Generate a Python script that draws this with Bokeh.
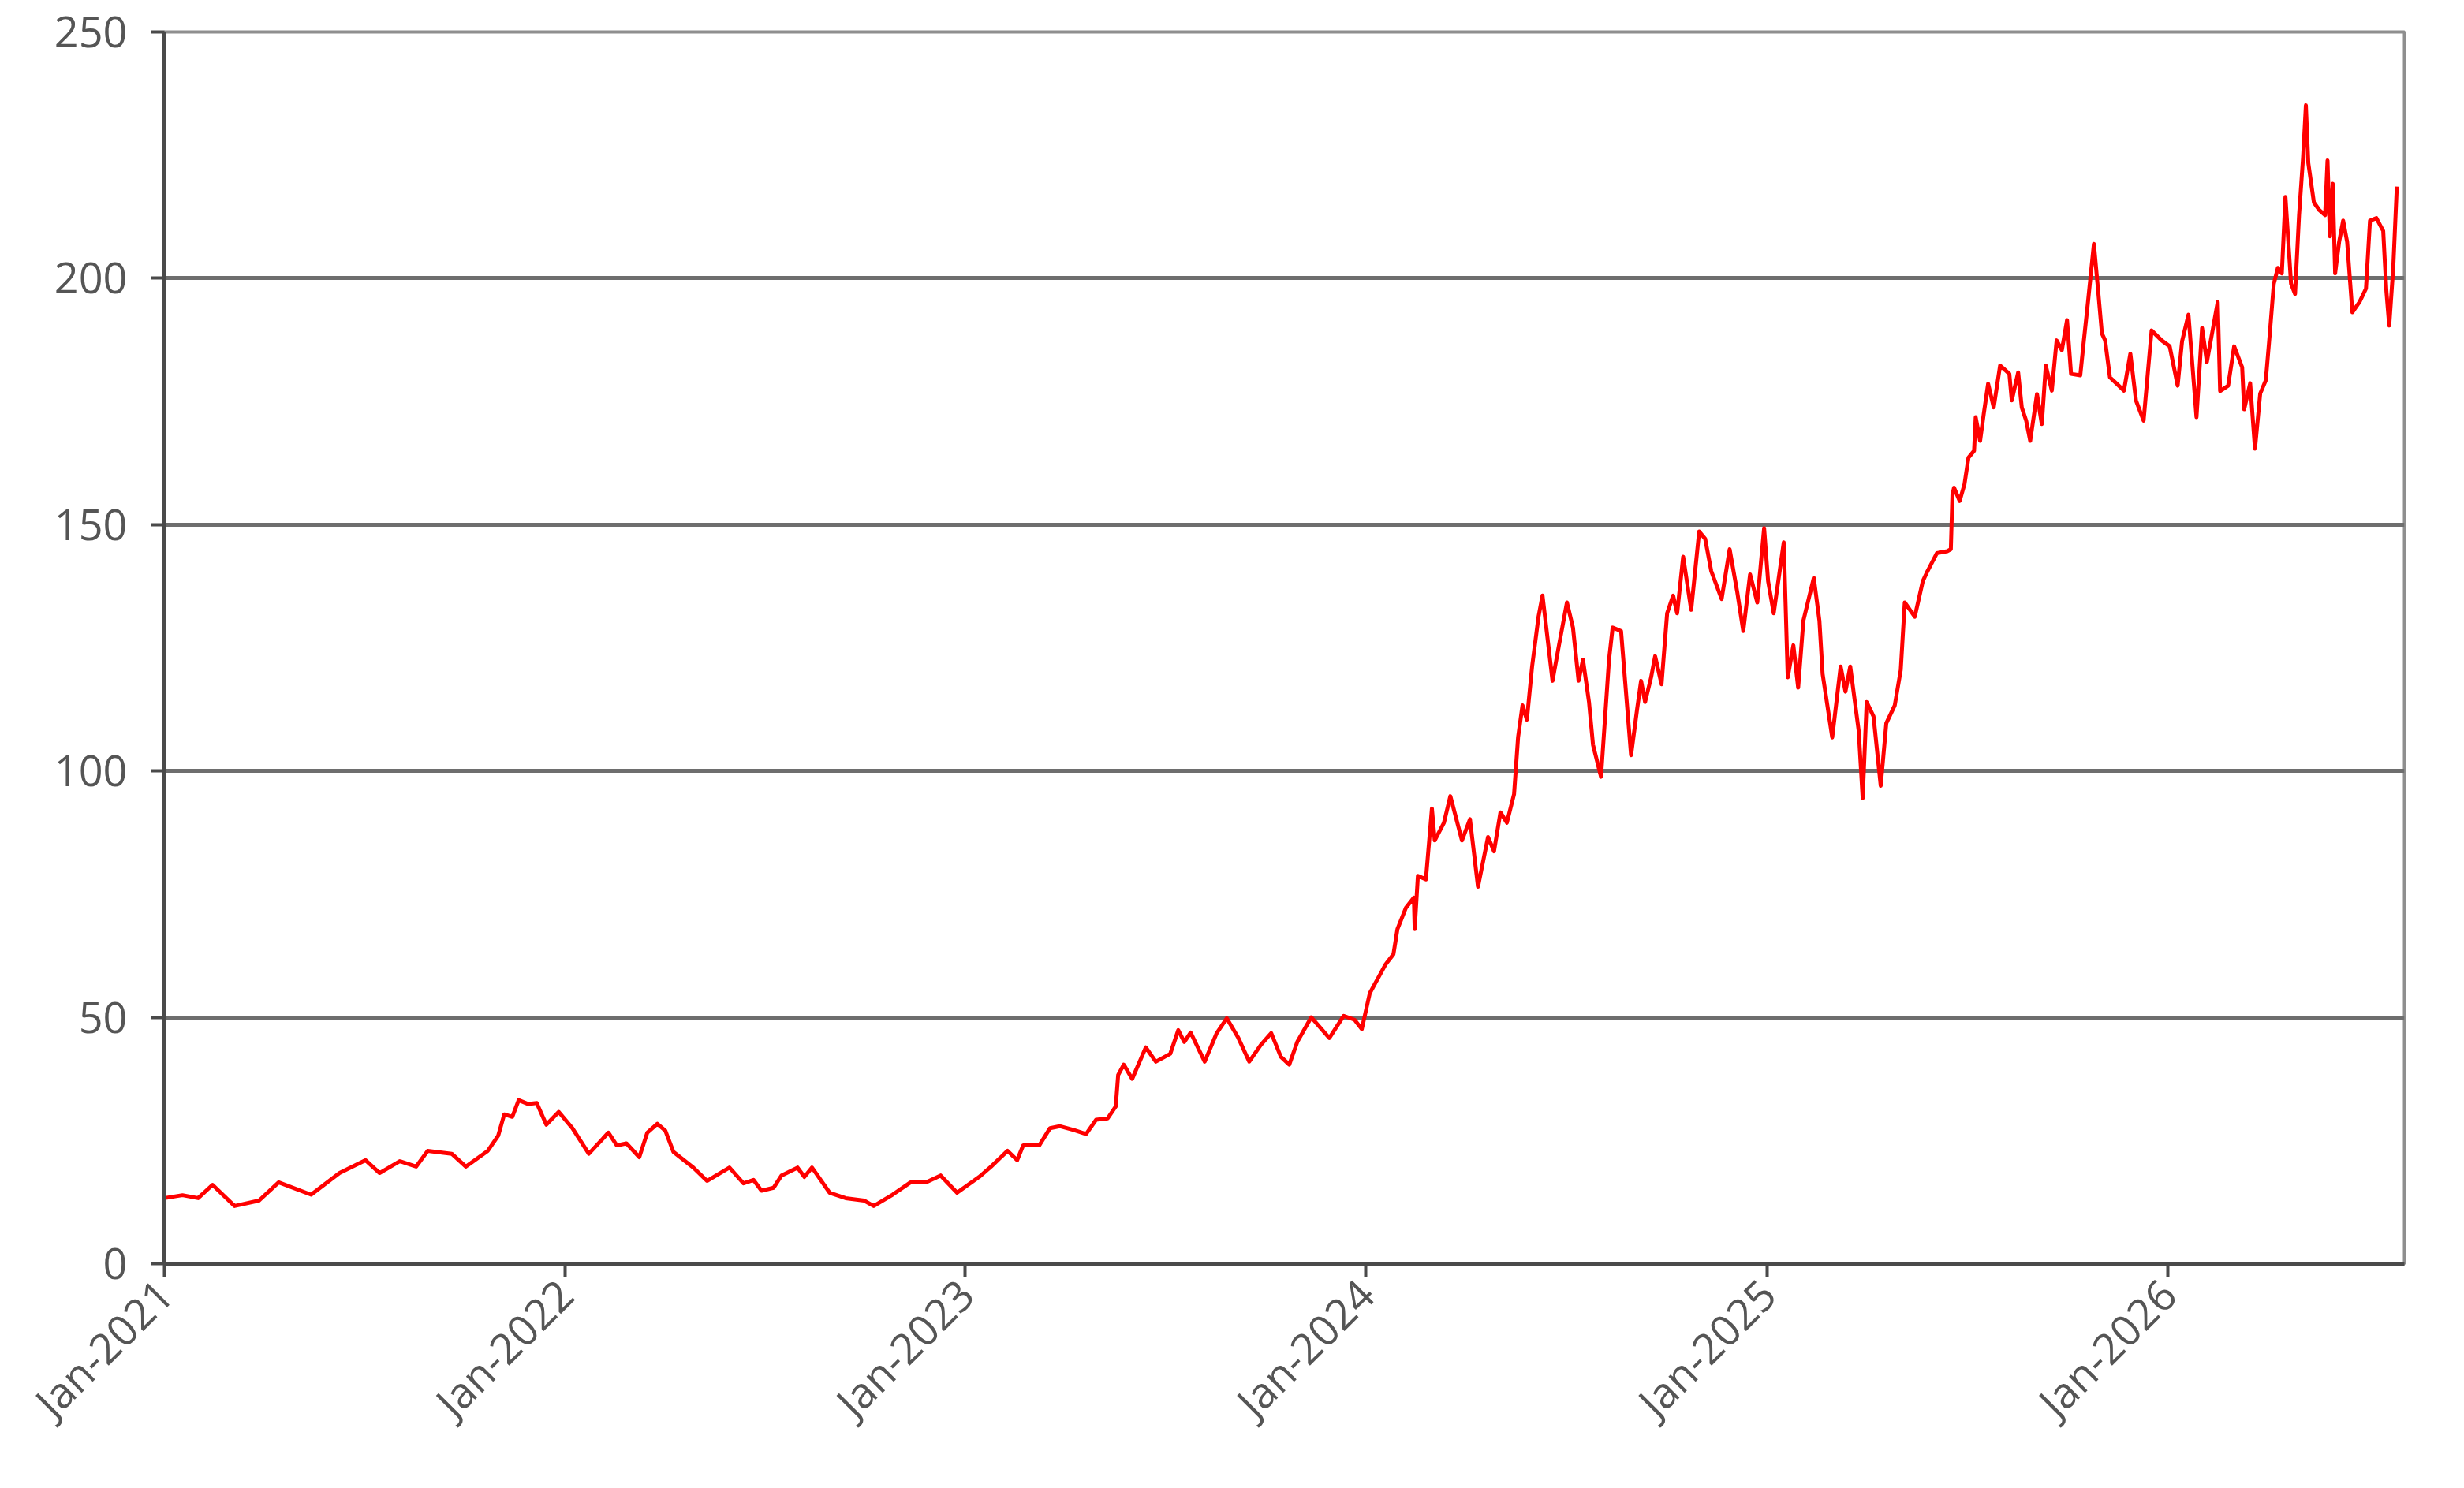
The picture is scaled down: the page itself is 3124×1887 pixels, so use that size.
from datetime import datetime, timedelta
from bokeh.plotting import figure
from bokeh.models import FixedTicker, DatetimeTickFormatter, Range1d
from bokeh.embed import file_html
from bokeh.resources import INLINE

# ---- data (decimal year, value) ----
year_frac = [
    2021.000, 2021.045, 2021.084, 2021.120, 2021.175, 2021.236, 2021.285, 2021.366,
    2021.437, 2021.502, 2021.537, 2021.587, 2021.628, 2021.657, 2021.717, 2021.752,
    2021.807, 2021.833, 2021.848, 2021.868, 2021.884, 2021.908, 2021.929, 2021.953,
    2021.984, 2022.018, 2022.059, 2022.108, 2022.129, 2022.153, 2022.185, 2022.205,
    2022.230, 2022.250, 2022.270, 2022.320, 2022.354, 2022.410, 2022.445, 2022.470,
    2022.490, 2022.520, 2022.540, 2022.580, 2022.597, 2022.616, 2022.660, 2022.700,
    2022.746, 2022.770, 2022.817, 2022.862, 2022.900, 2022.937, 2022.978, 2023.033,
    2023.063, 2023.104, 2023.128, 2023.143, 2023.183, 2023.210, 2023.234, 2023.270,
    2023.300, 2023.325, 2023.354, 2023.374, 2023.380, 2023.394, 2023.415, 2023.449,
    2023.474, 2023.510, 2023.530, 2023.545, 2023.561, 2023.596, 2023.626, 2023.651,
    2023.680, 2023.707, 2023.736, 2023.762, 2023.786, 2023.807, 2023.827, 2023.862,
    2023.907, 2023.943, 2023.970, 2023.988, 2024.008, 2024.037, 2024.047, 2024.067,
    2024.077, 2024.098, 2024.118, 2024.120, 2024.128, 2024.148, 2024.163, 2024.170,
    2024.193, 2024.209, 2024.238, 2024.258, 2024.278, 2024.303, 2024.318, 2024.334,
    2024.350, 2024.368, 2024.378, 2024.389, 2024.400, 2024.413, 2024.429, 2024.439,
    2024.464, 2024.480, 2024.500, 2024.515, 2024.529, 2024.540, 2024.555, 2024.565,
    2024.585, 2024.605, 2024.614, 2024.635, 2024.660, 2024.675, 2024.685, 2024.695,
    2024.710, 2024.720, 2024.736, 2024.750, 2024.765, 2024.775, 2024.790, 2024.810,
    2024.830, 2024.845, 2024.860, 2024.886, 2024.906, 2024.925, 2024.940, 2024.957,
    2024.975, 2024.992, 2025.002, 2025.016, 2025.041, 2025.051, 2025.065, 2025.077,
    2025.090, 2025.116, 2025.130, 2025.138, 2025.162, 2025.183, 2025.195, 2025.207,
    2025.228, 2025.238, 2025.248, 2025.265, 2025.283, 2025.297, 2025.318, 2025.333,
    2025.343, 2025.368, 2025.388, 2025.400, 2025.423, 2025.449, 2025.458, 2025.462,
    2025.466, 2025.480, 2025.492, 2025.502, 2025.516, 2025.520, 2025.531, 2025.540,
    2025.551, 2025.565, 2025.581, 2025.604, 2025.610, 2025.626, 2025.635, 2025.646,
    2025.656, 2025.673, 2025.685, 2025.695, 2025.710, 2025.722, 2025.735, 2025.748,
    2025.758, 2025.781, 2025.790, 2025.800, 2025.815, 2025.825, 2025.835, 2025.843,
    2025.855, 2025.872, 2025.890, 2025.906, 2025.920, 2025.939, 2025.959, 2025.984,
    2026.004, 2026.024, 2026.035, 2026.051, 2026.071, 2026.085, 2026.097, 2026.124,
    2026.130, 2026.150, 2026.165, 2026.185, 2026.190, 2026.205, 2026.217, 2026.230,
    2026.244, 2026.254, 2026.264, 2026.274, 2026.284, 2026.293, 2026.307, 2026.317,
    2026.327, 2026.337, 2026.344, 2026.350, 2026.364, 2026.378, 2026.392, 2026.398,
    2026.404, 2026.411, 2026.417, 2026.427, 2026.437, 2026.447, 2026.460, 2026.478,
    2026.494, 2026.504, 2026.520, 2026.537, 2026.545, 2026.552, 2026.562, 2026.571,
]
price = [
    13.3, 13.9, 13.3, 16.0, 11.7, 12.8, 16.5, 14.0,
    18.4, 21.0, 18.4, 20.8, 19.7, 22.9, 22.3, 19.7,
    22.9, 26.0, 30.3, 29.8, 33.2, 32.4, 32.6, 28.2,
    30.8, 27.5, 22.3, 26.6, 24.0, 24.4, 21.6, 26.6,
    28.4, 27.0, 22.7, 19.5, 16.8, 19.5, 16.3, 17.0,
    14.8, 15.4, 17.9, 19.5, 17.6, 19.5, 14.4, 13.3,
    12.8, 11.7, 14.0, 16.5, 16.5, 17.9, 14.4, 17.6,
    19.7, 22.9, 21.0, 24.0, 24.0, 27.5, 27.9, 27.1,
    26.3, 29.2, 29.5, 31.9, 38.3, 40.4, 37.5, 43.9,
    41.0, 42.6, 47.4, 45.0, 46.9, 41.0, 46.8, 49.8,
    45.8, 41.0, 44.4, 46.8, 42.0, 40.4, 45.0, 50.0,
    45.8, 50.3, 49.5, 47.6, 54.9, 59.2, 60.7, 62.8,
    67.9, 72.2, 74.3, 67.9, 78.7, 78.0, 92.4, 85.9,
    89.5, 94.9, 85.9, 90.2, 76.5, 86.6, 83.7, 91.6,
    89.5, 95.3, 106.8, 113.3, 110.4, 121.2, 131.3, 135.6,
    118.3, 125.5, 134.2, 129.1, 118.3, 122.6, 114.0, 105.3,
    98.8, 122.6, 129.1, 128.4, 103.2, 112.5, 118.3, 114.0,
    119.0, 123.3, 117.6, 132.0, 135.6, 132.0, 143.5, 132.7,
    148.6, 147.1, 140.6, 134.9, 145.0, 136.3, 128.4, 139.9,
    134.2, 149.3, 138.5, 132.0, 146.4, 119.0, 125.5, 116.9,
    130.5, 139.2, 130.5, 119.7, 106.8, 121.2, 116.1, 121.2,
    108.2, 94.5, 114.0, 111.1, 97.0, 109.7, 113.3, 120.5,
    134.2, 131.3, 138.5, 140.6, 144.2, 144.6, 145.0, 156.1,
    157.5, 154.8, 158.2, 163.6, 165.0, 171.8, 167.0, 172.4,
    178.6, 173.8, 182.3, 180.6, 175.2, 180.9, 173.8, 171.1,
    167.0, 176.5, 170.4, 182.3, 177.2, 187.4, 185.4, 191.5,
    180.6, 180.3, 187.4, 195.0, 207.0, 198.0, 188.8, 187.4,
    179.9, 178.6, 177.2, 184.7, 175.2, 171.1, 189.4, 187.4,
    186.2, 178.2, 187.2, 192.6, 171.8, 189.9, 183.0, 195.2,
    177.1, 178.2, 186.2, 181.9, 173.4, 178.7, 165.4, 176.6,
    179.3, 188.8, 198.9, 202.1, 201.0, 216.5, 198.9, 196.8,
    212.8, 224.5, 235.1, 223.4, 215.4, 213.8, 212.8, 223.9,
    208.5, 219.2, 201.0, 207.4, 211.7, 207.4, 193.1, 195.2,
    197.9, 211.7, 212.2, 209.6, 197.3, 190.4, 202.1, 218.6,
]
x_tick_years = [2021, 2022, 2023, 2024, 2025, 2026]
y_ticks = [0, 50, 100, 150, 200, 250]
x_start_year = 2021.0
x_end_year = 2026.59
y_min, y_max = 0, 250

EPOCH = datetime(1970, 1, 1)


def to_dt(f):
    return datetime(2021, 1, 1) + timedelta(days=(f - 2021.0) * 365.25)


def to_ms(dt):
    return (dt - EPOCH).total_seconds() * 1000.0


dates = [to_dt(f) for f in year_frac]

p = figure(
    frame_width=2840, frame_height=1562,
    x_axis_type="datetime",
    x_range=Range1d(to_ms(to_dt(x_start_year)), to_ms(to_dt(x_end_year))),
    y_range=Range1d(y_min, y_max),
    output_backend="svg", toolbar_location=None,
    min_border_left=208, min_border_right=60, min_border_top=40, min_border_bottom=268,
    background_fill_color="white", border_fill_color="white",
)

p.line(dates, price, line_color="#ff0000", line_width=5, line_join="round")

# axes
font = "Open Sans"
lab_col = "#555555"
p.xaxis.ticker = FixedTicker(ticks=[to_ms(datetime(y, 1, 1)) for y in x_tick_years])
fmt = "%b-%Y"
p.xaxis.formatter = DatetimeTickFormatter(
    microseconds=fmt, milliseconds=fmt, seconds=fmt, minsec=fmt, minutes=fmt,
    hourmin=fmt, hours=fmt, days=fmt, months=fmt, years=fmt,
)
p.xaxis.major_label_orientation = 0.785398
p.yaxis.ticker = FixedTicker(ticks=y_ticks)

for ax in (p.xaxis, p.yaxis):
    ax.axis_line_color = "#4a4a4a"
    ax.axis_line_width = 5
    ax.major_tick_line_color = "#4a4a4a"
    ax.major_tick_line_width = 4
    ax.major_tick_out = 17
    ax.major_tick_in = 0
    ax.minor_tick_line_color = None
    ax.major_label_text_font = font
    ax.major_label_text_font_size = "54px"
    ax.major_label_text_color = lab_col
p.yaxis.major_label_standoff = 30
p.xaxis.major_label_standoff = 12

p.xgrid.grid_line_color = None
p.ygrid.grid_line_color = "#6e6e6e"
p.ygrid.grid_line_width = 5

p.outline_line_color = "#8f8f8f"
p.outline_line_width = 4

open("out.html", "w").write(file_html(p, INLINE))
